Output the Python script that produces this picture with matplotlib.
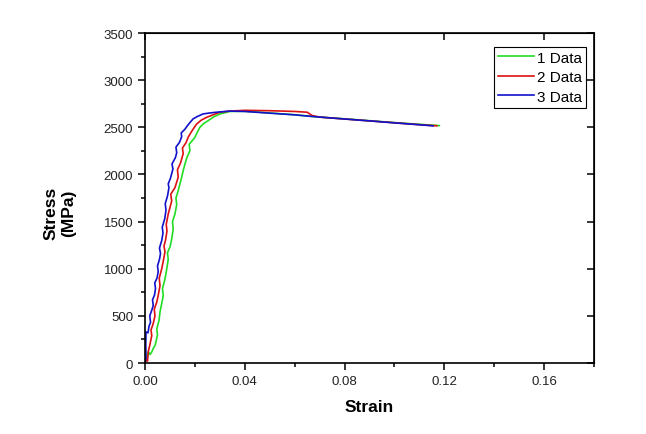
import matplotlib
matplotlib.use('Agg')
import matplotlib.pyplot as plt
from matplotlib.ticker import MultipleLocator

matplotlib.rcParams['font.family'] = ['Liberation Sans', 'DejaVu Sans']
matplotlib.rcParams['font.size'] = 9

# values
strain_1 = [0, 0.0008, 0.0013, 0.0020, 0.0027, 0.0034, 0.0040, 0.0045, 0.0050, 0.0047,
            0.0056, 0.0060, 0.0066, 0.0073, 0.0070, 0.0080, 0.0086, 0.0093, 0.0090, 0.0100,
            0.0107, 0.0113, 0.0110, 0.0120, 0.0127, 0.0124, 0.0133, 0.0140, 0.0147, 0.0153,
            0.0160, 0.0168, 0.0180, 0.0177, 0.0190, 0.0200, 0.0210, 0.0220, 0.0235, 0.0253,
            0.0275, 0.030, 0.034, 0.040, 0.05, 0.06, 0.07, 0.08, 0.09, 0.1,
            0.11, 0.118]
stress_1 = [0, 50, 120, 90, 117, 160, 184, 240, 300, 360,
            450, 540, 620, 714, 790, 890, 980, 1100, 1170, 1230,
            1315, 1420, 1500, 1580, 1680, 1750, 1827, 1900, 1970, 2040,
            2110, 2180, 2252, 2320, 2360, 2394, 2450, 2500, 2540, 2570,
            2610, 2641, 2668, 2670, 2652, 2633, 2608, 2590, 2570, 2550,
            2532, 2518]

strain_2 = [0, 0.0006, 0.0010, 0.0013, 0.0020, 0.0027, 0.0024, 0.0033, 0.0040, 0.0037,
            0.0047, 0.0053, 0.0060, 0.0057, 0.0067, 0.0073, 0.0080, 0.0076, 0.0082, 0.0088,
            0.0085, 0.0093, 0.0100, 0.0107, 0.0103, 0.0120, 0.0133, 0.0130, 0.0142, 0.0153,
            0.0150, 0.0165, 0.0173, 0.0190, 0.0207, 0.0225, 0.0247, 0.030, 0.034, 0.040,
            0.05, 0.06, 0.065, 0.067, 0.07, 0.08, 0.09, 0.1, 0.11, 0.117]
stress_2 = [0, 40, 20, 120, 200, 290, 350, 420, 500, 570,
            645, 720, 820, 900, 1000, 1080, 1180, 1240, 1300, 1400,
            1470, 1580, 1650, 1720, 1790, 1860, 1970, 2050, 2120, 2220,
            2280, 2340, 2395, 2470, 2535, 2575, 2606, 2660, 2672, 2680,
            2676, 2668, 2660, 2625, 2608, 2588, 2568, 2548, 2528, 2516]

strain_3 = [0, 0.0004, 0.0003, 0.0004, 0.0012, 0.0016, 0.0022, 0.0019, 0.0027, 0.0033,
            0.0030, 0.0038, 0.0042, 0.0039, 0.0048, 0.0053, 0.0050, 0.0058, 0.0062, 0.0058,
            0.0067, 0.0072, 0.0069, 0.0079, 0.0084, 0.0081, 0.0090, 0.0096, 0.0093, 0.0102,
            0.0112, 0.0108, 0.0122, 0.0127, 0.0124, 0.0138, 0.0147, 0.0145, 0.0160, 0.0168,
            0.0180, 0.0193, 0.0210, 0.0233, 0.026, 0.0287, 0.034, 0.040, 0.05, 0.06,
            0.066, 0.08, 0.09, 0.1, 0.11, 0.1155]
stress_3 = [0, 60, 200, 330, 320, 390, 430, 500, 560, 610,
            670, 720, 790, 850, 900, 970, 1030, 1100, 1160, 1220,
            1300, 1380, 1440, 1530, 1620, 1690, 1770, 1860, 1900, 1960,
            2060, 2110, 2180, 2230, 2290, 2340, 2400, 2440, 2480, 2510,
            2550, 2590, 2615, 2642, 2652, 2660, 2672, 2668, 2650, 2632,
            2617, 2588, 2568, 2547, 2527, 2515]

labels = ['1 Data', '2 Data', '3 Data']
colors = ['#22dd22', '#dd1111', '#1111cc']

fig = plt.figure(figsize=(6.46, 4.35), dpi=100)
ax = fig.add_axes([0.2245, 0.1632, 0.695, 0.7586])

ax.plot(strain_1, stress_1, color=colors[0], lw=1.2, label=labels[0])
ax.plot(strain_2, stress_2, color=colors[1], lw=1.2, label=labels[1])
ax.plot(strain_3, stress_3, color=colors[2], lw=1.2, label=labels[2])

ax.set_xlim(0, 0.18)
ax.set_ylim(0, 3500)
ax.xaxis.set_minor_locator(MultipleLocator(0.02))
ax.yaxis.set_major_locator(MultipleLocator(500))
ax.yaxis.set_minor_locator(MultipleLocator(250))
ax.set_xticks([0, 0.04, 0.08, 0.12, 0.16])
ax.set_xticklabels(['0.00', '0.04', '0.08', '0.12', '0.16'])

for s in ax.spines.values():
    s.set_linewidth(1.2)

ax.tick_params(which='major', direction='out', length=5, width=1.1)
ax.tick_params(which='minor', direction='out', length=3, width=1.1)
ax.tick_params(axis='both', labelsize=9.5, colors='black', labelcolor='#222222')

# top and right: inward major ticks only, no labels
axt = ax.secondary_xaxis('top')
axt.set_xticks([0, 0.04, 0.08, 0.12, 0.16])
axt.tick_params(direction='in', length=5, width=1.1, labeltop=False)
axr = ax.secondary_yaxis('right')
axr.set_yticks(range(0, 3501, 500))
axr.tick_params(direction='in', length=5, width=1.1, labelright=False)

leg = ax.legend(loc='upper right', bbox_to_anchor=(0.982, 0.9576), borderaxespad=0,
                fancybox=False, framealpha=1, edgecolor='black', fontsize=11,
                handlelength=2.35, handletextpad=0.2, labelspacing=0.36,
                borderpad=0.25)
leg.get_frame().set_linewidth(0.8)

fig.text(60 / 646, 1 - 213 / 435, 'Stress\n(MPa)', rotation=90, ha='center',
         va='center', fontsize=12.5, fontweight='bold', multialignment='center')
fig.text(369 / 646, 1 - 408 / 435, 'Strain', ha='center', va='center',
         fontsize=12.5, fontweight='bold')

fig.savefig('out.png', dpi=100)
